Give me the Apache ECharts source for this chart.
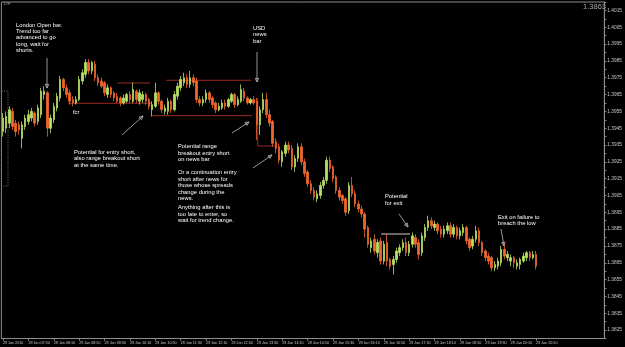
<!DOCTYPE html>
<html><head><meta charset="utf-8">
<script src="https://cdn.jsdelivr.net/npm/echarts@6/dist/echarts.min.js"></script>
<style>html,body{margin:0;padding:0;background:#000}#c{width:625px;height:347px}</style>
</head><body><div id="c"></div>
<script>
// ---- data (EURUSD M5, 29 Jan 2010, 06:50 - 20:50) ----
const tickLabels = ["29 Jan 2010","29 Jan 07:30","29 Jan 08:10","29 Jan 08:50","29 Jan 09:30","29 Jan 10:10",
  "29 Jan 10:50","29 Jan 11:30","29 Jan 12:10","29 Jan 12:50","29 Jan 13:30","29 Jan 14:10","29 Jan 14:50",
  "29 Jan 15:30","29 Jan 16:10","29 Jan 16:50","29 Jan 17:30","29 Jan 18:10","29 Jan 18:50","29 Jan 19:30",
  "29 Jan 20:10","29 Jan 20:50"];
const opens = [
1.3943,1.3945,1.3948,1.3955,1.3948,1.3947,1.3939,1.3946,1.3949,1.3951,
1.3954,1.3949,1.3953,1.3965,1.3966,1.3945,1.3950,1.3957,1.3963,1.3974,
1.3969,1.3966,1.3962,1.3960,1.3962,1.3973,1.3977,1.3984,1.3979,1.3983,
1.3975,1.3973,1.3972,1.3965,1.3969,1.3966,1.3964,1.3963,1.3960,1.3961,
1.3965,1.3961,1.3967,1.3961,1.3962,1.3965,1.3962,1.3956,1.3958,1.3966,
1.3961,1.3955,1.3955,1.3961,1.3956,1.3964,1.3969,1.3972,1.3975,1.3971,
1.3975,1.3973,1.3962,1.3960,1.3962,1.3966,1.3963,1.3960,1.3956,1.3957,
1.3960,1.3958,1.3961,1.3965,1.3959,1.3961,1.3967,1.3963,1.3960,1.3962,
1.3961,1.3947,1.3956,1.3962,1.3953,1.3949,1.3937,1.3934,1.3925,1.3930,
1.3935,1.3933,1.3922,1.3927,1.3934,1.3925,1.3919,1.3912,1.3908,1.3903,
1.3905,1.3911,1.3914,1.3926,1.3922,1.3916,1.3908,1.3905,1.3903,1.3896,
1.3911,1.3906,1.3900,1.3897,1.3894,1.3886,1.3874,1.3879,1.3871,1.3878,
1.3866,1.3877,1.3867,1.3864,1.3867,1.3871,1.3874,1.3877,1.3871,1.3876,
1.3880,1.3877,1.3871,1.3880,1.3886,1.3890,1.3886,1.3888,1.3885,1.3882,
1.3884,1.3887,1.3882,1.3886,1.3881,1.3883,1.3886,1.3879,1.3875,1.3879,
1.3884,1.3877,1.3872,1.3869,1.3868,1.3862,1.3863,1.3865,1.3873,1.3868,
1.3866,1.3868,1.3863,1.3864,1.3866,1.3868,1.3871,1.3868,1.3870];
const closes = [
1.3951,1.3952,1.3956,1.3946,1.3943,1.3944,1.3947,1.3951,1.3953,1.3955,
1.3948,1.3957,1.3967,1.3967,1.3945,1.3951,1.3958,1.3964,1.3974,1.3969,
1.3965,1.3961,1.3960,1.3962,1.3974,1.3978,1.3984,1.3979,1.3984,1.3975,
1.3972,1.3970,1.3966,1.3969,1.3965,1.3963,1.3961,1.3960,1.3963,1.3965,
1.3962,1.3968,1.3962,1.3966,1.3965,1.3961,1.3958,1.3959,1.3966,1.3961,
1.3956,1.3957,1.3961,1.3956,1.3965,1.3970,1.3974,1.3975,1.3971,1.3975,
1.3972,1.3962,1.3960,1.3962,1.3966,1.3962,1.3959,1.3956,1.3958,1.3960,
1.3958,1.3962,1.3965,1.3959,1.3962,1.3968,1.3963,1.3960,1.3962,1.3960,
1.3947,1.3956,1.3962,1.3953,1.3948,1.3936,1.3933,1.3926,1.3931,1.3935,
1.3932,1.3922,1.3927,1.3934,1.3925,1.3918,1.3912,1.3908,1.3904,1.3906,
1.3911,1.3914,1.3926,1.3921,1.3915,1.3908,1.3904,1.3902,1.3895,1.3911,
1.3906,1.3900,1.3897,1.3894,1.3885,1.3876,1.3878,1.3872,1.3877,1.3866,
1.3876,1.3866,1.3863,1.3867,1.3872,1.3874,1.3877,1.3871,1.3876,1.3881,
1.3876,1.3870,1.3881,1.3886,1.3890,1.3887,1.3888,1.3884,1.3882,1.3885,
1.3887,1.3882,1.3886,1.3881,1.3884,1.3886,1.3878,1.3874,1.3879,1.3884,
1.3877,1.3871,1.3868,1.3866,1.3862,1.3864,1.3866,1.3873,1.3869,1.3870,
1.3868,1.3865,1.3865,1.3867,1.3869,1.3871,1.3868,1.3870,1.3863];
const highs = [
1.3954,1.3955,1.3958,1.3957,1.3950,1.3949,1.3949,1.3953,1.3956,1.3957,
1.3955,1.3959,1.3969,1.3970,1.3967,1.3953,1.3960,1.3966,1.3976,1.3975,
1.3971,1.3968,1.3964,1.3964,1.3976,1.3980,1.3986,1.3986,1.3985,1.3985,
1.3977,1.3975,1.3973,1.3971,1.3970,1.3967,1.3966,1.3964,1.3965,1.3966,
1.3967,1.3972,1.3968,1.3968,1.3967,1.3966,1.3963,1.3961,1.3972,1.3967,
1.3962,1.3959,1.3963,1.3962,1.3967,1.3972,1.3976,1.3978,1.3977,1.3979,
1.3977,1.3975,1.3964,1.3964,1.3968,1.3967,1.3964,1.3961,1.3960,1.3962,
1.3962,1.3963,1.3966,1.3966,1.3964,1.3971,1.3969,1.3964,1.3963,1.3964,
1.3963,1.3958,1.3966,1.3966,1.3956,1.3950,1.3939,1.3936,1.3932,1.3937,
1.3937,1.3935,1.3929,1.3936,1.3936,1.3927,1.3920,1.3914,1.3910,1.3908,
1.3913,1.3916,1.3928,1.3928,1.3923,1.3917,1.3910,1.3906,1.3904,1.3913,
1.3916,1.3908,1.3902,1.3899,1.3895,1.3887,1.3880,1.3882,1.3879,1.3880,
1.3878,1.3882,1.3868,1.3869,1.3874,1.3876,1.3879,1.3880,1.3878,1.3883,
1.3882,1.3879,1.3883,1.3888,1.3893,1.3892,1.3890,1.3889,1.3887,1.3887,
1.3889,1.3889,1.3888,1.3887,1.3886,1.3888,1.3887,1.3880,1.3881,1.3887,
1.3886,1.3878,1.3873,1.3871,1.3869,1.3866,1.3868,1.3875,1.3876,1.3872,
1.3870,1.3869,1.3867,1.3868,1.3871,1.3872,1.3872,1.3872,1.3872];
const lows = [
1.3940,1.3942,1.3945,1.3944,1.3940,1.3941,1.3933,1.3944,1.3947,1.3949,
1.3946,1.3947,1.3951,1.3962,1.3940,1.3942,1.3948,1.3955,1.3961,1.3967,
1.3963,1.3959,1.3958,1.3959,1.3961,1.3971,1.3975,1.3977,1.3977,1.3973,
1.3970,1.3969,1.3964,1.3963,1.3963,1.3961,1.3960,1.3958,1.3959,1.3960,
1.3960,1.3960,1.3960,1.3959,1.3960,1.3959,1.3956,1.3952,1.3957,1.3959,
1.3954,1.3953,1.3953,1.3954,1.3955,1.3962,1.3967,1.3970,1.3969,1.3969,
1.3970,1.3960,1.3958,1.3958,1.3960,1.3960,1.3957,1.3954,1.3955,1.3956,
1.3956,1.3957,1.3960,1.3957,1.3958,1.3960,1.3961,1.3959,1.3959,1.3959,
1.3938,1.3941,1.3954,1.3951,1.3946,1.3934,1.3930,1.3924,1.3922,1.3928,
1.3930,1.3920,1.3919,1.3925,1.3923,1.3916,1.3910,1.3906,1.3902,1.3901,
1.3903,1.3909,1.3912,1.3919,1.3913,1.3906,1.3902,1.3900,1.3893,1.3894,
1.3904,1.3898,1.3895,1.3892,1.3880,1.3874,1.3871,1.3870,1.3868,1.3864,
1.3864,1.3863,1.3861,1.3858,1.3865,1.3869,1.3872,1.3869,1.3869,1.3874,
1.3874,1.3867,1.3869,1.3878,1.3884,1.3885,1.3884,1.3882,1.3880,1.3880,
1.3882,1.3880,1.3880,1.3879,1.3879,1.3881,1.3876,1.3872,1.3873,1.3877,
1.3875,1.3869,1.3866,1.3864,1.3860,1.3860,1.3861,1.3863,1.3867,1.3866,
1.3863,1.3862,1.3861,1.3861,1.3865,1.3866,1.3866,1.3867,1.3861];
const currentPrice = 1.3863;

// ---- build ----
const barsPerLabel = 8;
const totalSlots = 190; // bars + empty shift area on the right
const categories = [];
for (let i = 0; i < totalSlots; i++) {
  const m = 6 * 60 + 50 + 5 * i;
  categories.push(String(Math.floor(m / 60) % 24).padStart(2, '0') + ':' + String(m % 60).padStart(2, '0'));
}
const ohlc = opens.map((o, i) => [o, closes[i], lows[i], highs[i]]);
const showTick = idx => idx % barsPerLabel === 0 && idx / barsPerLabel < tickLabels.length;

const FONT = '"Liberation Sans", Arial, sans-serif';
const chart = echarts.init(document.getElementById('c'), null, {renderer: 'canvas'});

function arrow(x1, y1, x2, y2) {
  const a = Math.atan2(y2 - y1, x2 - x1), L = 4, s = 0.45;
  const p1 = [x2 - L * Math.cos(a - s), y2 - L * Math.sin(a - s)];
  const p2 = [x2 - L * Math.cos(a + s), y2 - L * Math.sin(a + s)];
  return [
    {type: 'line', silent: true, shape: {x1, y1, x2, y2}, style: {stroke: '#bdbdbd', lineWidth: 0.8}},
    {type: 'polygon', silent: true, shape: {points: [p1, [x2, y2], p2]}, style: {fill: 'none', stroke: '#bdbdbd', lineWidth: 0.8}}
  ];
}
function hline(x1, x2, y, color) {
  return {type: 'line', silent: true, shape: {x1, y1: y, x2, y2: y}, style: {stroke: color, lineWidth: 1}};
}
function note(x, y, text) {
  return {type: 'text', silent: true, x, y, style: {text, fill: '#ffffff', fontSize: 5.8, lineHeight: 6.4, fontFamily: FONT, verticalAlign: 'top', align: 'left'}};
}
const RED = '#9c2a20';
const graphics = [
  note(16, 21.8, 'London Open bar.\nTrend too far\nadvanced to go\nlong, wait for\nshorts.'),
  note(253, 25.2, 'USD\nnews\nbar'),
  note(73, 109, 'fcr'),
  note(74, 149, 'Potential for entry short,\nalso range breakout short\nat the same time.'),
  note(178, 143.5, 'Potential range\nbreakout entry short\non news bar'),
  note(178, 169.5, 'Or a continuation entry\nshort after news for\nthose whose spreads\nchange during the\nnews.'),
  note(178, 204.5, 'Anything after this is\ntoo late to enter, so\nwait for trend change.'),
  note(385, 193.5, 'Potential\nfor exit'),
  note(498, 213.7, 'Exit on failure to\nbreach the low'),
  ...arrow(47, 58, 47, 88),
  ...arrow(257, 52, 257, 82),
  ...arrow(122, 135, 143, 116),
  ...arrow(232, 133, 249, 122),
  ...arrow(253, 168, 272, 155),
  ...arrow(399, 214, 408, 227),
  ...arrow(501, 229, 504, 246),
  hline(68, 152, 103.3, RED),
  hline(117, 150, 83, RED),
  hline(166, 251, 80.3, RED),
  hline(151, 252, 115.7, RED),
  hline(258, 276, 146, RED),
  {type: 'line', silent: true, shape: {x1: 257.7, y1: 98, x2: 257.7, y2: 146}, style: {stroke: RED, lineWidth: 1}},
  hline(381, 410, 234, '#cfcfcf'),
  {type: 'rect', silent: true, shape: {x: -1, y: 91, width: 9, height: 95}, style: {fill: 'none', stroke: '#8a8a8a', lineWidth: 0.8, lineDash: [1, 1.5]}},
  {type: 'text', silent: true, x: 3, y: 2, style: {text: '12H', fill: '#9a9a9a', fontSize: 4, fontFamily: FONT}},
  {type: 'text', silent: true, x: 606, y: 7, style: {text: currentPrice.toFixed(4), fill: '#a8a8a8', fontSize: 7.5, fontFamily: FONT, align: 'right', verticalAlign: 'middle'}}
];

chart.setOption({
  backgroundColor: '#000000',
  animation: false,
  grid: {left: 1, right: 17, top: 2, bottom: 8.5, show: true, borderColor: '#8c8c8c', borderWidth: 1},
  xAxis: {
    type: 'category', data: categories, boundaryGap: true,
    axisLine: {lineStyle: {color: '#8c8c8c'}},
    axisTick: {show: true, interval: (idx) => showTick(idx), alignWithLabel: true, length: 2, lineStyle: {color: '#8c8c8c'}},
    axisLabel: {interval: (idx) => showTick(idx), formatter: (v, idx) => tickLabels[idx / barsPerLabel] || '',
      color: '#c8c8c8', fontSize: 3.7, fontFamily: FONT, align: 'left', margin: 2},
    splitLine: {show: false}
  },
  yAxis: {
    type: 'value', position: 'right', min: 1.3820, max: 1.4020, interval: 0.0005, scale: true,
    axisLine: {show: true, lineStyle: {color: '#8c8c8c'}},
    axisTick: {show: true, length: 2, lineStyle: {color: '#8c8c8c'}},
    axisLabel: {color: '#c8c8c8', fontSize: 4.8, fontFamily: FONT, margin: 3,
      formatter: v => (Math.round(v * 10000) % 10 === 5 ? v.toFixed(4) : '')},
    splitLine: {show: false}
  },
  series: [{
    type: 'candlestick', data: ohlc, barWidth: 2,
    itemStyle: {color: '#b8e062', color0: '#f0672c', borderColor: '#b8e062', borderColor0: '#f0672c', borderWidth: 0.8},
    markLine: {
      silent: true, symbol: 'none', animation: false,
      lineStyle: {opacity: 0},
      label: {show: true, position: 'end', formatter: () => currentPrice.toFixed(4), color: '#000', backgroundColor: '#d0d0d0',
        fontSize: 4.8, fontFamily: FONT, padding: [1, 1], distance: 1},
      data: [{yAxis: currentPrice}]
    }
  }],
  graphic: graphics
});
</script></body></html>
